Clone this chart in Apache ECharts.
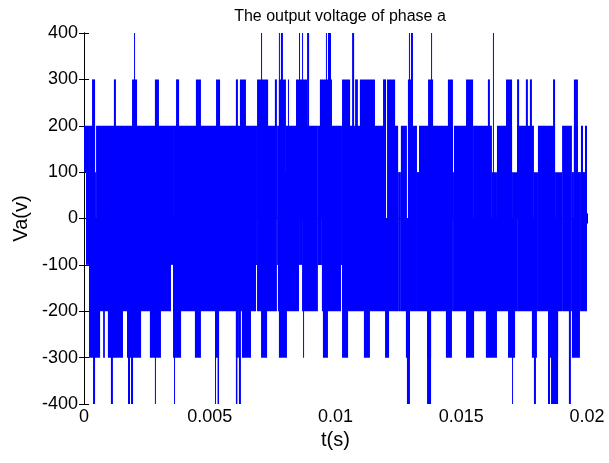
<!DOCTYPE html>
<html>
<head>
<meta charset="utf-8">
<script src="https://cdn.jsdelivr.net/npm/echarts@6/dist/echarts.min.js"></script>
<style>
  html, body { margin: 0; padding: 0; background: #fff; }
  #chart { width: 609px; height: 463px; }
</style>
</head>
<body>
<div id="chart"></div>
<script>
// times are in ms, levels in volts
const xTickLabels = ['0', '0.005', '0.01', '0.015', '0.02'];
const yTicks = [-400, -300, -200, -100, 0, 100, 200, 300, 400];

// runs where the waveform stays inside a narrower band than -200..200  [t0, t1, lo, hi]
const gaps = [
  [0.00, 0.08, 100, 200], [0.08, 0.20, -100, 200],
  [0.44, 0.48, -200, 100],
  [3.46, 3.54, -100, 200], [6.84, 6.88, -100, 200], [7.08, 7.12, -200, 100],
  [7.67, 7.71, -100, 200], [7.99, 8.03, -200, 100], [8.55, 8.67, -100, 200],
  [9.30, 9.46, -100, 200], [10.22, 10.26, -100, 200],
  [11.97, 12.09, -200, 0], [12.49, 12.60, -200, 100], [12.84, 12.92, -200, 0],
  [13.24, 13.32, -200, 100], [14.67, 14.71, -200, 100], [15.39, 15.47, -200, 100],
  [16.22, 16.42, -200, 100], [17.02, 17.22, -200, 100], [17.89, 18.05, -200, 100],
  [18.73, 19.01, -200, 100], [19.40, 19.48, -200, 100], [19.64, 19.76, -200, 100],
  [19.84, 19.92, -200, 100]
];

// pulses up to +300
const up300 = [
  [0.32, 0.44], [1.19, 1.27], [1.91, 2.11], [2.82, 2.98], [3.66, 3.78], [4.45, 4.65],
  [5.25, 5.41], [6.04, 6.12], [6.20, 6.44], [6.88, 7.32], [7.59, 7.67], [7.75, 8.03],
  [8.11, 8.15], [8.43, 8.87], [9.38, 9.86], [10.26, 10.58], [10.78, 10.89],
  [10.97, 11.57], [11.89, 12.01], [12.05, 12.37], [12.88, 13.08], [13.68, 13.88],
  [14.47, 14.67], [15.19, 15.47], [16.06, 16.14], [16.78, 17.02], [17.22, 17.30],
  [17.57, 17.65], [17.73, 17.81], [18.65, 18.73], [19.48, 19.64]
];
// pulses up to +400
const up400 = [
  [1.99, 2.03], [7.04, 7.08], [7.75, 7.79], [7.83, 7.91], [8.55, 8.59], [8.67, 8.71],
  [8.87, 8.95], [9.62, 9.66], [9.70, 9.82], [10.66, 10.74], [12.92, 12.96],
  [13.00, 13.08], [13.80, 13.84], [16.26, 16.30]
];
// pulses down to -300
const dn300 = [
  [0.20, 0.64], [0.76, 0.83], [0.95, 1.55], [1.71, 2.27], [2.62, 3.06], [3.54, 3.86],
  [4.41, 4.65], [5.21, 5.37], [6.04, 6.16], [6.28, 6.64], [7.04, 7.28], [7.75, 8.07],
  [8.71, 8.75], [9.50, 9.70], [10.26, 10.50], [11.13, 11.37], [11.97, 12.13],
  [12.80, 12.96], [13.64, 13.80], [14.39, 14.63], [15.19, 15.51], [15.98, 16.42],
  [16.86, 17.14], [17.81, 18.01], [18.45, 18.85], [19.40, 19.72]
];
// pulses down to -400
const dn400 = [
  [0.36, 0.44], [1.07, 1.15], [1.75, 1.83], [1.87, 1.95], [2.82, 2.86], [3.58, 3.62],
  [5.21, 5.25], [5.31, 5.37], [6.04, 6.10], [6.16, 6.24], [12.84, 12.96],
  [13.64, 13.80], [17.02, 17.06], [17.89, 17.97], [18.45, 18.53], [18.57, 18.85],
  [19.28, 19.36]
];

const tEnd = 20;

// main band -200..200 wherever no gap run is given
function buildBand() {
  const out = [];
  const sorted = gaps.slice().sort((a, b) => a[0] - b[0]);
  let cur = 0;
  sorted.forEach(g => {
    if (g[0] > cur) out.push([cur, g[0], -200, 200]);
    out.push(g);
    cur = Math.max(cur, g[1]);
  });
  if (cur < tEnd) out.push([cur, tEnd, -200, 200]);
  return out;
}

const runs = []
  .concat(buildBand())
  .concat(up300.map(r => [r[0], r[1], 0, 300]))
  .concat(up400.map(r => [r[0], r[1], 0, 400]))
  .concat(dn300.map(r => [r[0], r[1], -300, 0]))
  .concat(dn400.map(r => [r[0], r[1], -400, 0]))
  .map(r => [r[0] / 1000, r[1] / 1000, r[2], r[3]]);

const font = 'Liberation Sans, Arial, sans-serif';
const chart = echarts.init(document.getElementById('chart'));

function renderRun(params, api) {
  const a = api.coord([api.value(0), api.value(3)]);
  const b = api.coord([api.value(1), api.value(2)]);
  return {
    type: 'rect',
    shape: { x: a[0], y: a[1], width: Math.max(1, b[0] - a[0]), height: b[1] - a[1] },
    style: { fill: '#0000ff' }
  };
}

const axisLine = { show: true, lineStyle: { color: '#000', width: 1 } };
const tick = { show: true, inside: true, length: 5, lineStyle: { color: '#000' } };

chart.setOption({
  animation: false,
  backgroundColor: '#fff',
  title: {
    text: 'The output voltage of phase a',
    left: 335, top: 4, textAlign: 'center',
    textStyle: { fontFamily: font, fontSize: 16, fontWeight: 'normal', color: '#000' }
  },
  grid: { left: 84, right: 22, top: 33, bottom: 59 },
  xAxis: [{
    type: 'value', min: 0, max: 0.02, interval: 0.005,
    name: 't(s)', nameLocation: 'middle', nameGap: 26,
    nameTextStyle: { fontFamily: font, fontSize: 20, color: '#000' },
    axisLine: axisLine, axisTick: tick, splitLine: { show: false },
    axisLabel: {
      fontFamily: font, fontSize: 18, color: '#000', margin: 4,
      formatter: v => xTickLabels[Math.round(v / 0.005)]
    }
  }, {
    type: 'value', position: 'top', min: 0, max: 0.02, interval: 0.005,
    axisLine: axisLine, axisTick: tick, splitLine: { show: false },
    axisLabel: { show: false }
  }],
  yAxis: [{
    type: 'value', min: -400, max: 400, interval: 100,
    name: 'Va(v)', nameLocation: 'middle', nameGap: 52,
    nameTextStyle: { fontFamily: font, fontSize: 20, color: '#000' },
    axisLine: axisLine, axisTick: tick, splitLine: { show: false },
    axisLabel: {
      fontFamily: font, fontSize: 18, color: '#000', margin: 6,
      formatter: v => String(yTicks[Math.round((v + 400) / 100)])
    }
  }, {
    type: 'value', position: 'right', min: -400, max: 400, interval: 100,
    axisLine: axisLine, axisTick: tick, splitLine: { show: false },
    axisLabel: { show: false }
  }],
  series: [{
    type: 'custom',
    renderItem: renderRun,
    clip: true,
    encode: { x: [0, 1], y: [2, 3] },
    data: runs
  }]
});
</script>
</body>
</html>
